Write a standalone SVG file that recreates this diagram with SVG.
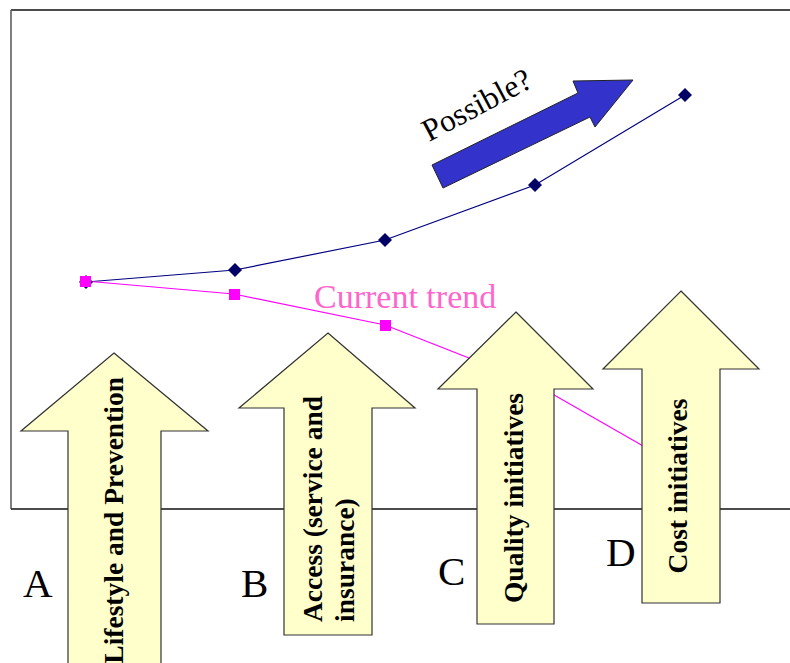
<svg xmlns="http://www.w3.org/2000/svg" width="790" height="663" viewBox="0 0 790 663">
<style>
.arr{fill:#FFFFCC;stroke:#333;stroke-width:1.2}
.lbl{font-family:"Liberation Serif","Times New Roman",serif;font-weight:bold;font-size:27.5px;fill:#000}
.let{font-family:"Liberation Serif","Times New Roman",serif;font-size:41px;fill:#000}
.trend{font-family:"Liberation Serif","Times New Roman",serif;font-size:34px;fill:#FF66CC}
.poss{font-family:"Liberation Serif","Times New Roman",serif;font-size:31.5px;fill:#000}
.dia{fill:#000066}
.sq{fill:#FF00FF}
</style>
<rect width="790" height="663" fill="#fff"/>
<g id="frame" fill="none">
<line x1="11" y1="10" x2="790" y2="10" stroke="#111" stroke-width="1.5"/>
<line x1="11" y1="10" x2="11" y2="509" stroke="#555" stroke-width="1.5"/>
<line x1="11" y1="509" x2="790" y2="509" stroke="#111" stroke-width="1.3"/>
</g>
<g id="connectors">
<polyline points="86,282 235,270 385,240 535,185 685,95" fill="none" stroke="#000080" stroke-width="1.2"/>
<polyline points="85,281 234,294 385,325 535,384 685,470" fill="none" stroke="#FF00FF" stroke-width="1.2"/>
<g class="dia">
<polygon points="86,275 93,282 86,289 79,282"/>
<polygon points="235,263 242,270 235,277 228,270"/>
<polygon points="385,233 392,240 385,247 378,240"/>
<polygon points="535,178 542,185 535,192 528,185"/>
<polygon points="685,88 692,95 685,102 678,95"/>
</g>
<g class="sq">
<rect x="80" y="276" width="11" height="11"/>
<rect x="229" y="289" width="11" height="11"/>
<rect x="380" y="320" width="11" height="11"/>
</g>
</g>
<text id="current-trend" class="trend" x="314" y="308">Current trend</text>
<g id="possible">
<polygon points="443,188 432,165 578,93 573,81 633,80 595,127 590,117" fill="#3333CC" stroke="#222" stroke-width="1"/>
<text class="poss" transform="translate(429,142) rotate(-28)">Possible?</text>
</g>
<g id="arrowA">
<polygon class="arr" points="114,353 208,431 161,431 161,670 68,670 68,431 21,431"/>
<text class="lbl" transform="translate(123,377) rotate(-90)" text-anchor="end">Lifestyle and Prevention</text>
<text class="let" x="23" y="597">A</text>
</g>
<g id="arrowB">
<polygon class="arr" points="328,333 415,408 372,408 372,635 284,635 284,408 239,408"/>
<text class="lbl" transform="translate(322,622) rotate(-90)">Access (service and</text>
<text class="lbl" transform="translate(354,622) rotate(-90)">insurance)</text>
<text class="let" x="241" y="597">B</text>
</g>
<g id="arrowC">
<polygon class="arr" points="516,312 593,389 554,389 554,624 477,624 477,389 438,389"/>
<text class="lbl" transform="translate(523,498) rotate(-90)" text-anchor="middle">Quality initiatives</text>
<text class="let" x="438" y="585">C</text>
</g>
<g id="arrowD">
<polygon class="arr" points="681,291 759,369 720,369 720,603 642,603 642,369 603,369"/>
<text class="lbl" transform="translate(687,486) rotate(-90)" text-anchor="middle">Cost initiatives</text>
<text class="let" x="606" y="566">D</text>
</g>
</svg>
